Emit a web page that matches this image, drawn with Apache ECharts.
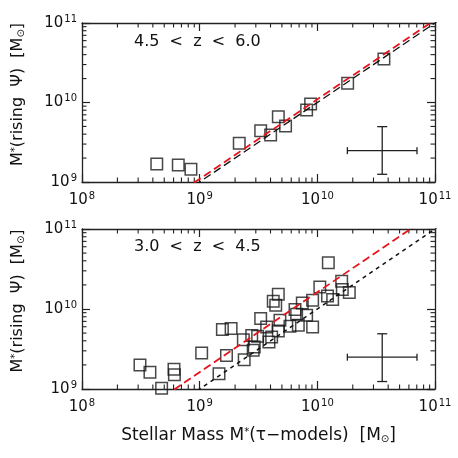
<!DOCTYPE html>
<html>
<head>
<meta charset="utf-8">
<script src="https://cdn.jsdelivr.net/npm/echarts@6/dist/echarts.min.js"></script>
<style>html,body{margin:0;padding:0;background:#fff}#c{width:458px;height:458px}</style>
</head>
<body>
<div id="c"></div>
<script>
// ---------- data ----------
var panelLabels = ['4.5  <  z  <  6.0', '3.0  <  z  <  4.5'];
var xTickValues = [1e8, 1e9, 1e10, 1e11];
var yTickValues = [1e9, 1e10, 1e11];
var minorMultipliers = [2, 3, 4, 5, 6, 7, 8, 9];
var xDecades = [1e8, 1e9, 1e10];
var yDecades = [1e9, 1e10];

// top panel (4.5 < z < 6.0): [M*(tau-models), M*(rising psi)]
var topPoints = [
  [4.32e8, 1.68e9], [6.58e8, 1.64e9], [8.43e8, 1.45e9], [2.17e9, 3.07e9],
  [3.30e9, 4.42e9], [4.01e9, 3.89e9], [4.66e9, 6.62e9], [5.37e9, 5.06e9],
  [8.11e9, 8.05e9], [8.77e9, 9.57e9], [1.81e10, 1.75e10], [3.68e10, 3.52e10]
];
// bottom panel (3.0 < z < 4.5)
var bottomPoints = [
  [3.11e8, 2.00e9], [3.78e8, 1.62e9], [4.75e8, 1.02e9], [6.05e8, 1.76e9],
  [6.10e8, 1.51e9], [1.04e9, 2.82e9], [1.46e9, 1.55e9], [1.56e9, 5.56e9],
  [1.85e9, 5.71e9], [1.69e9, 2.63e9], [2.35e9, 4.14e9], [2.39e9, 2.32e9],
  [2.77e9, 4.68e9], [2.85e9, 3.05e9], [2.91e9, 3.35e9], [3.11e9, 4.57e9],
  [3.30e9, 7.59e9], [3.71e9, 5.96e9], [3.88e9, 3.86e9], [4.09e9, 4.47e9],
  [4.22e9, 1.25e10], [4.43e9, 1.11e10], [4.66e9, 1.53e10], [4.66e9, 5.31e9],
  [4.81e9, 7.23e9], [5.85e9, 6.08e9], [6.46e9, 9.84e9], [6.67e9, 8.61e9],
  [6.89e9, 6.27e9], [7.45e9, 1.19e10], [8.11e9, 8.36e9], [9.12e9, 1.29e10],
  [9.12e9, 5.97e9], [1.05e10, 1.89e10], [1.22e10, 1.45e10], [1.24e10, 3.78e10],
  [1.35e10, 1.31e10], [1.61e10, 2.22e10], [1.63e10, 1.75e10], [1.87e10, 1.61e10]
];
// fit / reference lines (end points)
var topBlackLine = [[5e8, 5e8], [2e11, 2e11]];
var topRedLine = [[5e8, 5.48e8], [2e11, 2.19e11]];
var bottomBlackLine = [[5e8, 5e8], [2e11, 2e11]];
var bottomRedLine = [[5e8, 8.1e8], [2e11, 3.24e11]];
// typical error cross: [xCenter, yCenter, xLow, xHigh, yLow, yHigh]
var topErr = [[3.56e10, 2.48e9, 1.80e10, 7.03e10, 1.25e9, 4.97e9]];
var bottomErr = [[3.56e10, 2.50e9, 1.80e10, 7.03e10, 1.24e9, 4.90e9]];

// ---------- chart ----------
var FONT = 'DejaVu Sans';
var AX = '#222';
var minorX = [], minorY = [];
xDecades.forEach(function (d) { minorMultipliers.forEach(function (m) { minorX.push([m * d, 1e9, 0]); }); });
yDecades.forEach(function (d) { minorMultipliers.forEach(function (m) { minorY.push([1e8, m * d, 1]); }); });
var minorData = minorX.concat(minorY);

var grids = [
  { left: 82, top: 23, width: 353, height: 159 },
  { left: 82, top: 229, width: 353, height: 160 }
];

function expLabel(v) {
  var e = Math.round(Math.log(v) / Math.LN10);
  return '{b|10}{s|' + e + '}';
}
var labelRich = {
  b: { fontFamily: FONT, fontSize: 15, color: '#111', lineHeight: 18 },
  s: { fontFamily: FONT, fontSize: 10, color: '#111', verticalAlign: 'top', lineHeight: 10, padding: [0, 0, 0, 1] }
};
function nameRich(sz) {
  return {
    n: { fontFamily: FONT, fontSize: sz, color: '#111' },
    sup: { fontFamily: FONT, fontSize: Math.round(sz * 0.6), color: '#111', verticalAlign: 'top', lineHeight: 9 },
    sub: { fontFamily: FONT, fontSize: Math.round(sz * 0.6), color: '#111', verticalAlign: 'bottom', lineHeight: 9 }
  };
}
var yName = '{n|M}{sup|*}{n|(rising  \u03A8)  [M}{sub|\u2299}{n|]}';
var xName = '{n|Stellar Mass M}{sup|*}{n|(\u03C4\u2212models)  [M}{sub|\u2299}{n|]}';

var xAxes = [], yAxes = [];
[0, 1].forEach(function (g) {
  xAxes.push({
    type: 'log', logBase: 10, gridIndex: g, min: 1e8, max: 1e11, position: 'bottom',
    name: g === 1 ? xName : '', nameLocation: 'middle', nameGap: 38,
    nameTextStyle: { rich: nameRich(17) },
    axisLine: { lineStyle: { color: AX, width: 1.3 } },
    axisTick: { inside: true, length: 8, lineStyle: { color: AX, width: 1.2 } },
    axisLabel: { formatter: expLabel, rich: labelRich, margin: 9 },
    splitLine: { show: false }
  });
  xAxes.push({
    type: 'log', logBase: 10, gridIndex: g, min: 1e8, max: 1e11, position: 'top',
    axisLine: { lineStyle: { color: AX, width: 1.3 } },
    axisTick: { inside: true, length: 8, lineStyle: { color: AX, width: 1.2 } },
    axisLabel: { show: false }, splitLine: { show: false }
  });
  yAxes.push({
    type: 'log', logBase: 10, gridIndex: g, min: 1e9, max: 1e11, position: 'left',
    name: yName, nameLocation: 'middle', nameGap: 56, nameRotate: 90,
    nameTextStyle: { rich: nameRich(16), padding: [0, 0, 0, 16] },
    axisLine: { lineStyle: { color: AX, width: 1.3 } },
    axisTick: { inside: true, length: 8, lineStyle: { color: AX, width: 1.2 } },
    axisLabel: { formatter: expLabel, rich: labelRich, margin: 5 },
    splitLine: { show: false }
  });
  yAxes.push({
    type: 'log', logBase: 10, gridIndex: g, min: 1e9, max: 1e11, position: 'right',
    axisLine: { lineStyle: { color: AX, width: 1.3 } },
    axisTick: { inside: true, length: 8, lineStyle: { color: AX, width: 1.2 } },
    axisLabel: { show: false }, splitLine: { show: false }
  });
});

function minorTickRender(params, api) {
  var cs = params.coordSys;
  var kind = api.value(2);
  var L = 4.5;
  var st = { stroke: AX, lineWidth: 1.1 };
  if (kind === 0) {
    var p = api.coord([api.value(0), api.value(1)]);
    return { type: 'group', children: [
      { type: 'line', shape: { x1: p[0], y1: cs.y + cs.height, x2: p[0], y2: cs.y + cs.height - L }, style: st },
      { type: 'line', shape: { x1: p[0], y1: cs.y, x2: p[0], y2: cs.y + L }, style: st }
    ] };
  } else {
    var q = api.coord([api.value(0), api.value(1)]);
    return { type: 'group', children: [
      { type: 'line', shape: { x1: cs.x, y1: q[1], x2: cs.x + L, y2: q[1] }, style: st },
      { type: 'line', shape: { x1: cs.x + cs.width, y1: q[1], x2: cs.x + cs.width - L, y2: q[1] }, style: st }
    ] };
  }
}

function errRender(params, api) {
  var c = api.coord([api.value(0), api.value(1)]);
  var xl = api.coord([api.value(2), api.value(1)]);
  var xh = api.coord([api.value(3), api.value(1)]);
  var yl = api.coord([api.value(0), api.value(4)]);
  var yh = api.coord([api.value(0), api.value(5)]);
  var st = { stroke: '#222', lineWidth: 1.3 };
  return { type: 'group', children: [
    { type: 'line', shape: { x1: xl[0], y1: c[1], x2: xh[0], y2: c[1] }, style: st },
    { type: 'line', shape: { x1: c[0], y1: yl[1], x2: c[0], y2: yh[1] }, style: st },
    { type: 'line', shape: { x1: xl[0], y1: c[1] - 3.5, x2: xl[0], y2: c[1] + 3.5 }, style: st },
    { type: 'line', shape: { x1: xh[0], y1: c[1] - 3.5, x2: xh[0], y2: c[1] + 3.5 }, style: st },
    { type: 'line', shape: { x1: c[0] - 5, y1: yl[1], x2: c[0] + 5, y2: yl[1] }, style: st },
    { type: 'line', shape: { x1: c[0] - 5, y1: yh[1], x2: c[0] + 5, y2: yh[1] }, style: st }
  ] };
}

function lineSeries(data, g, color, width, dash) {
  return {
    type: 'line', xAxisIndex: g * 2, yAxisIndex: g * 2, data: data, symbol: 'none',
    clip: true, silent: true, animation: false,
    lineStyle: { color: color, width: width, type: dash }
  };
}
function scatterSeries(data, g) {
  return {
    type: 'scatter', xAxisIndex: g * 2, yAxisIndex: g * 2, data: data,
    symbol: 'rect', symbolSize: 11.5, animation: false,
    itemStyle: { color: 'rgba(0,0,0,0)', borderColor: '#1a1a1a', borderWidth: 1.5 }
  };
}

var series = [];
[0, 1].forEach(function (g) {
  series.push({ type: 'custom', xAxisIndex: g * 2, yAxisIndex: g * 2, data: minorData,
    renderItem: minorTickRender, silent: true, animation: false });
});
series.push(lineSeries(topBlackLine, 0, '#111', 1.3, [8, 4]));
series.push(lineSeries(topRedLine, 0, '#e8141c', 1.8, [8, 4]));
series.push(lineSeries(bottomBlackLine, 1, '#111', 1.5, [4, 4]));
series.push(lineSeries(bottomRedLine, 1, '#e8141c', 1.8, [8, 4]));
series.push(scatterSeries(topPoints, 0));
series.push(scatterSeries(bottomPoints, 1));
series.push({ type: 'custom', xAxisIndex: 0, yAxisIndex: 0, data: topErr, renderItem: errRender, silent: true, animation: false });
series.push({ type: 'custom', xAxisIndex: 2, yAxisIndex: 2, data: bottomErr, renderItem: errRender, silent: true, animation: false });

var chart = echarts.init(document.getElementById('c'), null, { renderer: 'canvas' });
chart.setOption({
  backgroundColor: '#fff',
  animation: false,
  grid: grids,
  xAxis: xAxes,
  yAxis: yAxes,
  series: series,
  graphic: [
    { type: 'text', left: 134, top: 34, style: { text: panelLabels[0], font: '16px "DejaVu Sans"', fill: '#111' } },
    { type: 'text', left: 134, top: 239, style: { text: panelLabels[1], font: '16px "DejaVu Sans"', fill: '#111' } }
  ]
});
</script>
</body>
</html>
